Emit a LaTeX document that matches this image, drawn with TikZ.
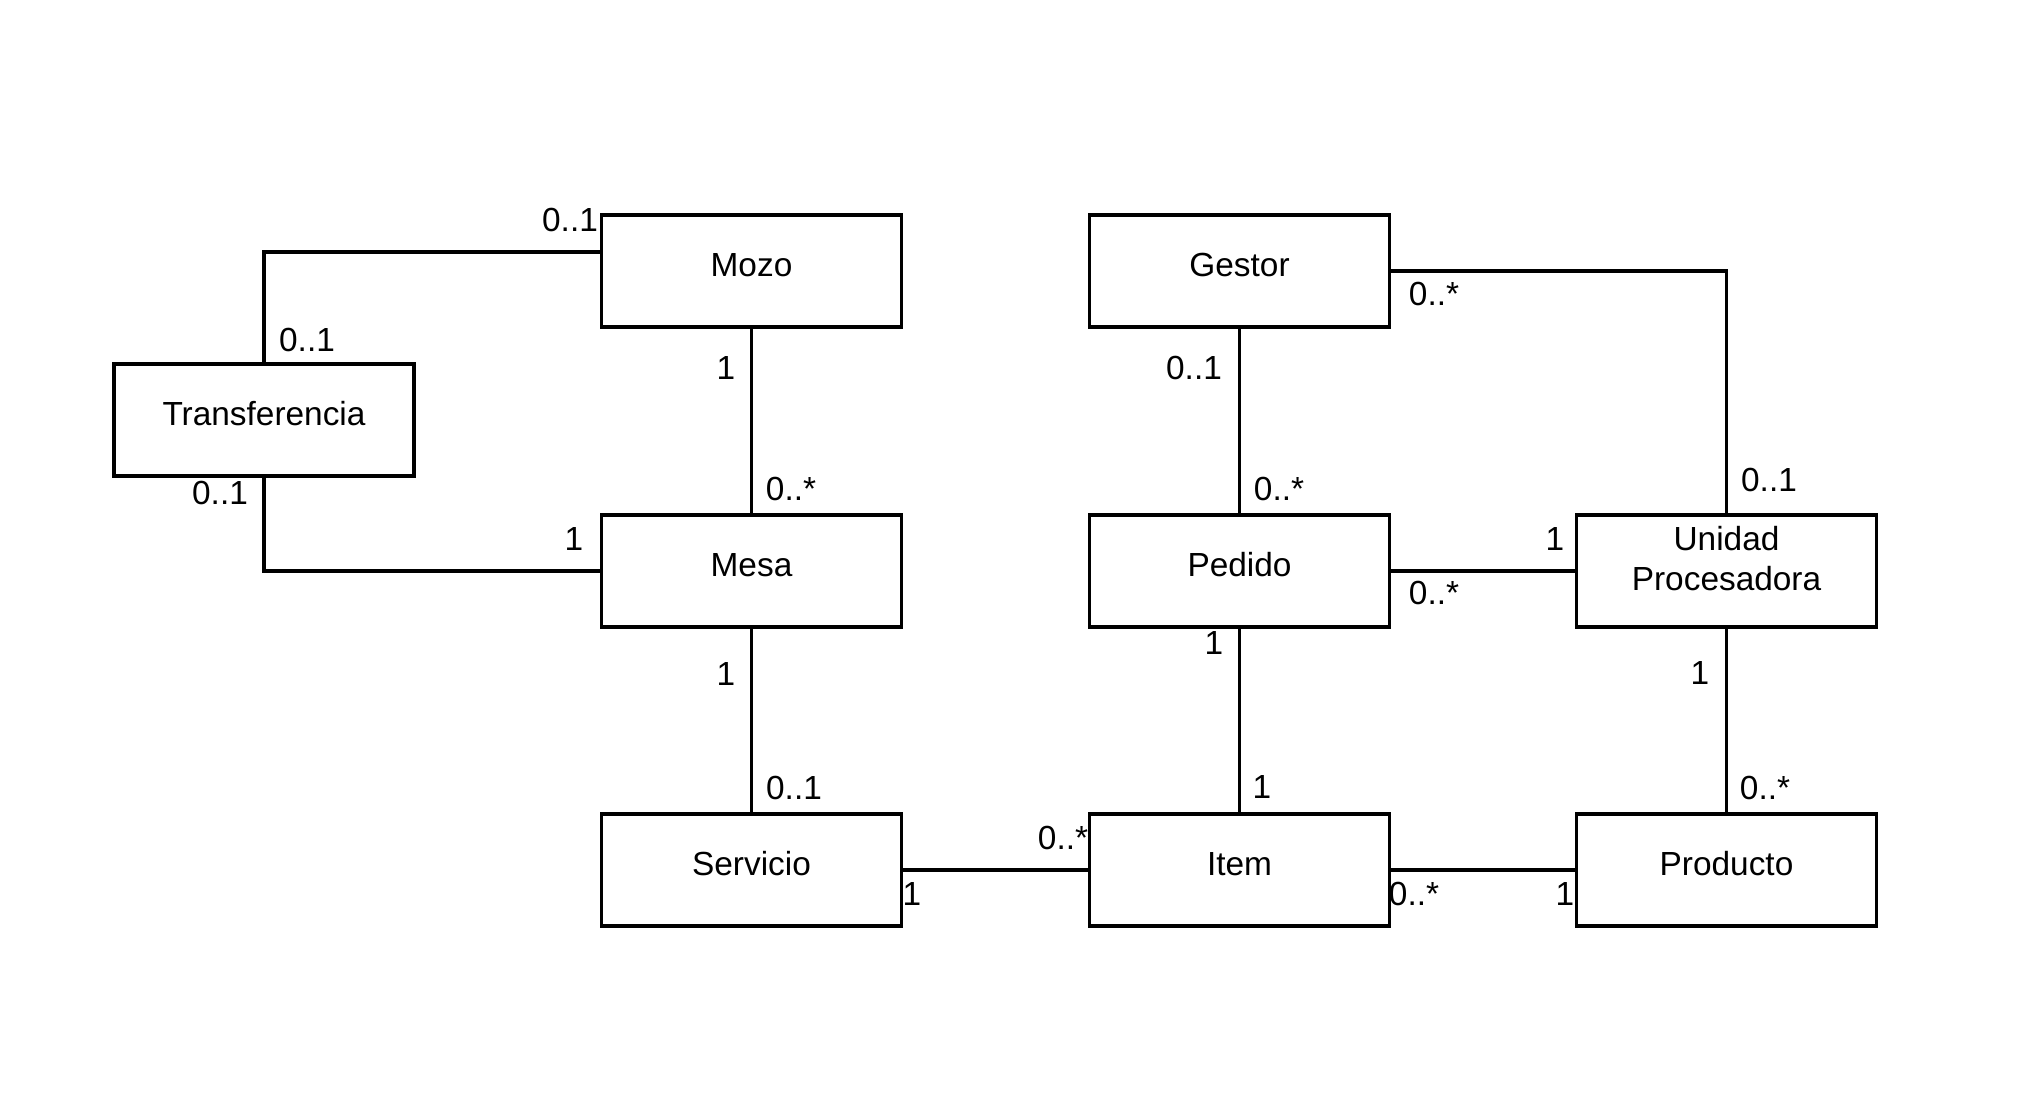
\documentclass[tikz,border=0pt]{standalone}
\usepackage{fontspec}
\setmainfont{Liberation Sans}
\usetikzlibrary{calc}
\begin{document}
\begin{tikzpicture}[x=0.5pt,y=-0.5pt,
  cls/.style={draw,line width=1.75pt,minimum width=150pt,minimum height=56pt,inner sep=0pt,text height=12pt,text depth=6.8pt,font=\fontsize{16.7}{20}\selectfont},
  conn/.style={line width=1.6pt},
  mult/.style={inner sep=0pt,font=\fontsize{16.7}{20}\selectfont}]
\useasboundingbox (0,0) rectangle (2040,1112);
\node[cls] (mozo) at (751.5,271) {Mozo};
\node[cls] (gestor) at (1239.5,271) {Gestor};
\node[cls] (trans) at (264,420) {Transferencia};
\node[cls] (mesa) at (751.5,571) {Mesa};
\node[cls] (pedido) at (1239.5,571) {Pedido};
\node[cls,text height=12pt,text depth=12pt] (unidad) at (1726.5,571) {\begin{tabular}{@{}c@{}}Unidad\\Procesadora\end{tabular}};
\node[cls] (servicio) at (751.5,870) {Servicio};
\node[cls] (item) at (1239.5,870) {Item};
\node[cls] (producto) at (1726.5,870) {Producto};
\coordinate (mozoW) at ($(mozo.west)+(0,-19)$);
\draw[conn] (trans.north) |- (mozoW);
\draw[conn] (trans.south) |- (mesa.west);
\draw[conn] (mozo.south) -- (mesa.north);
\draw[conn] (mesa.south) -- (servicio.north);
\draw[conn] (servicio.east) -- (item.west);
\draw[conn] (gestor.south) -- (pedido.north);
\draw[conn] (gestor.east) -| (unidad.north);
\draw[conn] (pedido.east) -- (unidad.west);
\draw[conn] (pedido.south) -- (item.north);
\draw[conn] (unidad.south) -- (producto.north);
\draw[conn] (item.east) -- (producto.west);
\node[mult] (l1) at (570,220) {0..1};
\node[mult] (l2) at (307,340) {0..1};
\node[mult] (l3) at (220,493) {0..1};
\node[mult] (l4) at (574,539) {1};
\node[mult] (l5) at (726,368) {1};
\node[mult] (l6) at (791,489) {0..*};
\node[mult] (l7) at (726,674) {1};
\node[mult] (l8) at (794,788) {0..1};
\node[mult] (l9) at (1063,838) {0..*};
\node[mult] (l10) at (912,894) {1};
\node[mult] (l11) at (1194,368) {0..1};
\node[mult] (l12) at (1279,489) {0..*};
\node[mult] (l13) at (1434,294) {0..*};
\node[mult] (l14) at (1769,480) {0..1};
\node[mult] (l15) at (1555,539) {1};
\node[mult] (l16) at (1434,593) {0..*};
\node[mult] (l17) at (1214,643) {1};
\node[mult] (l18) at (1262,787) {1};
\node[mult] (l19) at (1700,673) {1};
\node[mult] (l20) at (1765,788) {0..*};
\node[mult] (l21) at (1414,894) {0..*};
\node[mult] (l22) at (1565,894) {1};
\end{tikzpicture}
\end{document}
